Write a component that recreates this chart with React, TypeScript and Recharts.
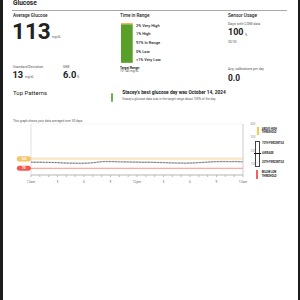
import {
    BarChart,
    Bar,
    XAxis,
    YAxis,
    ComposedChart,
    Area,
    Line,
    CartesianGrid,
    ReferenceLine
} from 'recharts';

// time in range, bottom -> top of the stacked bar
const rangeKeys = ['veryLow', 'low', 'inRange', 'high', 'veryHigh'];
const rangeValues = [0.5, 0, 97, 1, 2];
const rangeColors = ['#c9352f', '#f0625a', '#5a9f2a', '#f8d572', '#f2a33c'];
const rangeLabels = ['2% Very High', '1% High', '97% In Range', '0% Low', '<1% Very Low'];

// 30-day average profile (half-hour steps)
const hours = [
    0, 0.5, 1, 1.5, 2, 2.5, 3, 3.5, 4, 4.5, 5, 5.5, 6, 6.5, 7, 7.5,
    8, 8.5, 9, 9.5, 10, 10.5, 11, 11.5, 12, 12.5, 13, 13.5, 14, 14.5, 15, 15.5,
    16, 16.5, 17, 17.5, 18, 18.5, 19, 19.5, 20, 20.5, 21, 21.5, 22, 22.5, 23, 23.5, 24
];
const avgGlucose = [
    116, 115, 115, 114, 114, 113, 112, 110, 109, 108, 108, 107, 108, 109, 111, 115,
    119, 120, 120, 119, 118, 117, 117, 116, 116, 115, 115, 115, 114, 113, 112, 111,
    110, 109, 109, 108, 109, 110, 112, 114, 116, 118, 119, 120, 120, 119, 120, 119, 118
];
const p75Glucose = [
    119, 118, 118, 117, 117, 116, 115, 113, 112, 111, 111, 110, 111, 112, 114, 118,
    122, 123, 123, 122, 121, 120, 120, 119, 119, 118, 118, 118, 117, 116, 115, 114,
    113, 112, 112, 111, 112, 113, 115, 117, 119, 121, 122, 123, 123, 122, 123, 122, 121
];
const p25Glucose = [
    114, 113, 113, 112, 112, 111, 110, 108, 107, 106, 106, 105, 106, 107, 109, 113,
    117, 118, 118, 117, 116, 115, 115, 114, 114, 113, 113, 113, 112, 111, 110, 109,
    108, 107, 107, 106, 107, 108, 110, 112, 114, 116, 117, 118, 118, 117, 118, 117, 116
];

const xTicks = [0, 1, 2, 3, 4, 5, 6, 7, 8, 9, 10, 11, 12, 13, 14, 15, 16, 17, 18, 19, 20, 21, 22, 23, 24];
const xTickLabels = ['12am', '', '', '3', '', '', '6', '', '', '9', '', '', '12pm', '', '', '3', '', '', '6', '', '', '9', '', '', '12am'];
const yTicks = [50, 100, 150, 200, 250, 300, 350, 400];
const highThreshold = 140;
const lowThreshold = 70;

const tirRow: Record<string, number | string> = { name: 'tir' };
rangeKeys.forEach((k, i) => { tirRow[k] = rangeValues[i]; });
const tirData = [tirRow];

const profileData = hours.map((h, i) => ({
    hour: h,
    avg: avgGlucose[i],
    band: [p25Glucose[i], p75Glucose[i]]
}));

const txt = (left: number, top: number, size: number, extra: React.CSSProperties = {}): React.CSSProperties => ({
    position: 'absolute', left, top, fontSize: size, lineHeight: 1, whiteSpace: 'nowrap', ...extra
});

function Pill(props: any, text: string, fill: string, line: string) {
    const { viewBox } = props;
    if (!viewBox) return null;
    const y = viewBox.y;
    const x = viewBox.x;
    return (
        <g>
            <rect x={x - 14} y={y - 2.3} width={13.7} height={4.6} rx={2.3} fill={fill} stroke={line} strokeWidth={0.4} />
            <text x={x - 7.2} y={y + 1.1} fontSize={3.1} fill="#fff" fontWeight={700} textAnchor="middle">{text}</text>
        </g>
    );
}

export default function App() {
    const dark = '#222';
    const grey = '#555';
    return (
        <div style={{ position: 'absolute', left: 0, top: 0, width: 300, height: 300, overflow: 'hidden', background: '#fff', fontFamily: 'Roboto, sans-serif', color: dark }}>
            <div style={{ position: 'absolute', left: 0, top: 0, width: 2.5, height: 300, background: '#1c1c1c' }} />
            <div style={{ position: 'absolute', left: 297.5, top: 0, width: 2.5, height: 300, background: '#1c1c1c' }} />

            <div style={txt(13, 0, 6.5, { fontWeight: 700 })}>Glucose</div>
            <div style={{ position: 'absolute', left: 12, top: 10, width: 275, height: 0.7, background: '#aaa' }} />

            {/* average glucose */}
            <div style={txt(13, 13.5, 4.6, { fontWeight: 500 })}>Average Glucose</div>
            <div style={txt(12, 20, 22.5, { fontWeight: 700 })}>113</div>
            <div style={txt(52, 36.4, 3, { color: grey })}>mg/dL</div>

            <div style={txt(13, 65.7, 3.6, { color: grey })}>Standard Deviation</div>
            <div style={txt(12.5, 70.4, 9.3, { fontWeight: 700 })}>13</div>
            <div style={txt(25, 75.8, 3, { color: grey })}>mg/dL</div>
            <div style={txt(63, 65.7, 3.6, { color: grey })}>GMI</div>
            <div style={txt(63, 70.4, 9.3, { fontWeight: 700 })}>6.0</div>
            <div style={txt(77, 75.8, 3, { color: grey })}>%</div>

            {/* time in range */}
            <div style={txt(120, 13.5, 4.6, { fontWeight: 500 })}>Time in Range</div>
            <div style={{ position: 'absolute', left: 120, top: 23, width: 13, height: 40, overflow: 'hidden' }}>
                <BarChart width={13} height={40} data={tirData} margin={{ top: 0, right: 0, left: 0, bottom: 0 }} barCategoryGap={0} barSize={13}>
                    <XAxis dataKey="name" hide />
                    <YAxis domain={[0, 100]} hide />
                    {rangeKeys.map((k, i) => (
                        <Bar key={k} dataKey={k} stackId="a" fill={rangeColors[i]} isAnimationActive={false} />
                    ))}
                </BarChart>
            </div>
            {rangeLabels.map((l, i) => (
                <div key={l} style={txt(136, [26, 34, 43, 51.7, 60.3][i] - 2.2, 4, { fontWeight: 500 })}>{l}</div>
            ))}
            <div style={txt(120, 66.6, 3.2, { fontWeight: 700 })}>Target Range:</div>
            <div style={txt(120, 70.1, 3, { color: grey })}>70-140 mg/dL</div>

            {/* sensor usage */}
            <div style={txt(228, 13.5, 4.7, { fontWeight: 500 })}>Sensor Usage</div>
            <div style={txt(228, 23, 3.6, { color: grey })}>Days with CGM data</div>
            <div style={txt(228, 28.4, 9, { fontWeight: 700 })}>100</div>
            <div style={txt(245, 33.6, 3, { color: grey })}>%</div>
            <div style={txt(228, 41, 3.2, { color: grey })}>30/30</div>
            <div style={txt(228, 68.2, 3.3, { color: grey })}>Avg. calibrations per day</div>
            <div style={txt(228, 73.9, 8.4, { fontWeight: 700 })}>0.0</div>

            {/* top patterns */}
            <div style={txt(13, 90.2, 6, {})}>Top Patterns</div>
            <div style={{ position: 'absolute', left: 111, top: 93.3, width: 2.3, height: 8.4, background: '#6ab04c', borderRadius: 1 }} />
            <div style={txt(122.3, 91.4, 4.8, { fontWeight: 700 })}>Stacey's best glucose day was October 14, 2024</div>
            <div style={txt(122.3, 98.3, 3.1, { color: grey })}>Stacey's glucose data was in the target range about 100% of the day.</div>
            <div style={txt(13, 120, 3.1, { color: grey })}>This graph shows your data averaged over 30 days.</div>

            {/* daily profile */}
            <div style={{ position: 'absolute', left: 0, top: 120 }}>
                <ComposedChart width={260} height={72} data={profileData} margin={{ top: 4, right: 7, left: 31, bottom: 5 }}>
                    <CartesianGrid vertical={false} stroke="#ececec" strokeWidth={0.6} />
                    <XAxis
                        dataKey="hour"
                        type="number"
                        domain={[0, 24]}
                        ticks={xTicks}
                        tickFormatter={(v: number) => xTickLabels[xTicks.indexOf(v)]}
                        interval={0}
                        height={12}
                        tickSize={2}
                        tickMargin={4}
                        stroke="#bbb"
                        tick={{ fontSize: 3.3, fill: '#666' }}
                    />
                    <YAxis
                        orientation="right"
                        domain={[20, 400]}
                        ticks={yTicks}
                        width={10}
                        tickLine={false}
                        tickMargin={1.5}
                        stroke="#ccc"
                        tick={{ fontSize: 3, fill: '#999' }}
                    />
                    <ReferenceLine x={0} stroke="#ccc" strokeWidth={0.6} />
                    <ReferenceLine
                        y={highThreshold}
                        stroke="#f6cd7d"
                        strokeWidth={0.9}
                        label={(p: any) => Pill(p, String(highThreshold), '#f7c46a', '#f0a83c')}
                    />
                    <ReferenceLine
                        y={lowThreshold}
                        stroke="#f2877e"
                        strokeWidth={0.9}
                        label={(p: any) => Pill(p, String(lowThreshold), '#f05a4f', '#e0453b')}
                    />
                    <Area dataKey="band" stroke="#bdbdbd" strokeWidth={0.4} fill="#ececec" fillOpacity={0.8} isAnimationActive={false} />
                    <Line dataKey="avg" stroke="#333" strokeWidth={0.8} strokeDasharray="0.8 0.7" dot={false} isAnimationActive={false} />
                </ComposedChart>
            </div>

            {/* legend */}
            <div style={{ position: 'absolute', left: 256.7, top: 127.3, width: 2, height: 7.7, background: '#f6c84e' }} />
            <div style={txt(261.7, 128.5, 2.6, { fontWeight: 700 })}>ABOVE HIGH</div>
            <div style={txt(261.7, 132.4, 2.6, { fontWeight: 700 })}>THRESHOLD</div>
            <div style={{ position: 'absolute', left: 255.3, top: 140.5, width: 3, height: 24, border: '0.5px solid #444', background: '#fff' }} />
            <div style={{ position: 'absolute', left: 254, top: 152.6, width: 6.6, height: 1.4, background: '#111' }} />
            <div style={txt(262, 143, 2.6, { fontWeight: 700 })}>75TH PERCENTILE</div>
            <div style={txt(262, 152.7, 2.6, { fontWeight: 700 })}>AVERAGE</div>
            <div style={txt(262, 162, 2.6, { fontWeight: 700 })}>25TH PERCENTILE</div>
            <div style={{ position: 'absolute', left: 256.2, top: 170, width: 2, height: 9.3, background: '#f0625a' }} />
            <div style={txt(261.7, 172, 2.6, { fontWeight: 700 })}>BELOW LOW</div>
            <div style={txt(261.7, 176, 2.6, { fontWeight: 700 })}>THRESHOLD</div>
        </div>
    );
}
